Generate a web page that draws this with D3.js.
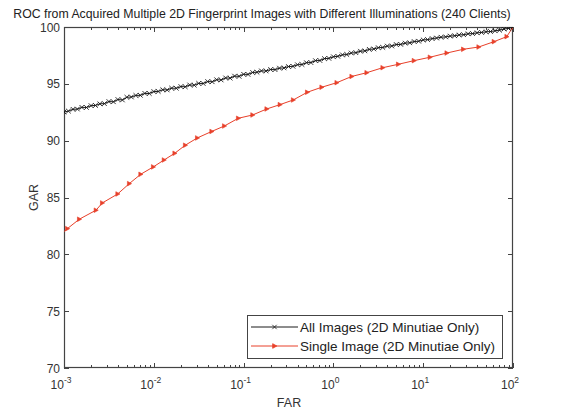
<!DOCTYPE html>
<html>
<head>
<meta charset="utf-8">
<script src="https://cdn.jsdelivr.net/npm/d3@7/dist/d3.min.js"></script>
<style>
  html, body { margin: 0; padding: 0; background: #fff; }
  svg { display: block; font-family: "Liberation Sans", Arial, sans-serif; }
</style>
</head>
<body>
<svg id="chart" width="571" height="412"></svg>
<script>
// ROC curves: FAR (%) on a log axis vs. GAR (%)
const titleText = "ROC from Acquired Multiple 2D Fingerprint Images with Different Illuminations (240 Clients)";
const xLabel = "FAR";
const yLabel = "GAR";
const xTickExponents = [-3, -2, -1, 0, 1, 2];
const yTicks = [70, 75, 80, 85, 90, 95, 100];
const seriesNames = ["All Images (2D Minutiae Only)", "Single Image (2D Minutiae Only)"];

// All images: dense operating points
const allFar = [
  1.00e-3, 1.12e-3, 1.26e-3, 1.41e-3, 1.58e-3, 1.78e-3, 2.00e-3, 2.24e-3, 2.51e-3, 2.82e-3,
  3.16e-3, 3.55e-3, 3.98e-3, 4.47e-3, 5.01e-3, 5.62e-3, 6.31e-3, 7.08e-3, 7.94e-3, 8.91e-3,
  1.00e-2, 1.12e-2, 1.26e-2, 1.41e-2, 1.58e-2, 1.78e-2, 2.00e-2, 2.24e-2, 2.51e-2, 2.82e-2,
  3.16e-2, 3.55e-2, 3.98e-2, 4.47e-2, 5.01e-2, 5.62e-2, 6.31e-2, 7.08e-2, 7.94e-2, 8.91e-2,
  1.00e-1, 1.12e-1, 1.26e-1, 1.41e-1, 1.58e-1, 1.78e-1, 2.00e-1, 2.24e-1, 2.51e-1, 2.82e-1,
  3.16e-1, 3.55e-1, 3.98e-1, 4.47e-1, 5.01e-1, 5.62e-1, 6.31e-1, 7.08e-1, 7.94e-1, 8.91e-1,
  1.00, 1.12, 1.26, 1.41, 1.58, 1.78, 2.00, 2.24, 2.51, 2.82,
  3.16, 3.55, 3.98, 4.47, 5.01, 5.62, 6.31, 7.08, 7.94, 8.91,
  10.0, 11.2, 12.6, 14.1, 15.8, 17.8, 20.0, 22.4, 25.1, 28.2,
  31.6, 35.5, 39.8, 44.7, 50.1, 56.2, 63.1, 70.8, 79.4, 89.1,
  100
];
const allGar = [
  92.52, 92.60, 92.76, 92.78, 92.93, 92.92, 93.08, 93.10, 93.24, 93.26,
  93.44, 93.42, 93.62, 93.58, 93.82, 93.84, 93.98, 93.99, 94.16, 94.15,
  94.32, 94.33, 94.48, 94.46, 94.62, 94.61, 94.76, 94.74, 94.90, 94.88,
  95.04, 95.03, 95.20, 95.18, 95.36, 95.34, 95.52, 95.50, 95.68, 95.66,
  95.84, 95.83, 96.00, 96.02, 96.14, 96.13, 96.26, 96.25, 96.38, 96.40,
  96.52, 96.54, 96.68, 96.70, 96.86, 96.87, 97.04, 97.05, 97.22, 97.24,
  97.38, 97.42, 97.55, 97.58, 97.71, 97.74, 97.87, 97.90, 98.03, 98.07,
  98.18, 98.20, 98.32, 98.33, 98.46, 98.47, 98.58, 98.61, 98.72, 98.75,
  98.86, 98.89, 98.98, 99.03, 99.10, 99.13, 99.20, 99.23, 99.30, 99.32,
  99.40, 99.42, 99.49, 99.52, 99.58, 99.60, 99.67, 99.72, 99.82, 99.88,
  100.0
];

// Single image: sparser operating points
const singleFar = [
  0.00100, 0.00109, 0.00148, 0.00227, 0.00267, 0.00396, 0.00533, 0.00714, 0.00986, 0.0130,
  0.0171, 0.0224, 0.0305, 0.0441, 0.0610, 0.0872, 0.126, 0.181, 0.254, 0.357,
  0.512, 0.741, 1.09, 1.60, 2.35, 3.54, 5.28, 7.90, 11.9, 18.3,
  28.0, 41.5, 61.4, 85.1, 100
];
const singleGar = [
  82.00, 82.26, 83.09, 83.88, 84.52, 85.31, 86.22, 87.04, 87.69, 88.30,
  88.89, 89.60, 90.24, 90.81, 91.29, 91.97, 92.26, 92.79, 93.17, 93.58,
  94.26, 94.70, 95.10, 95.65, 95.98, 96.42, 96.72, 97.04, 97.34, 97.71,
  98.04, 98.24, 98.71, 99.15, 100.0
];

const colors = ["#1a1a1a", "#e8402a"];
const plot = { left: 64, right: 513, top: 27, bottom: 368 };

const svg = d3.select("#chart");
const x = d3.scaleLog().domain([1e-3, 1e2]).range([plot.left, plot.right]);
const y = d3.scaleLinear().domain([70, 100]).range([plot.bottom, plot.top]);

svg.append("rect").attr("width", 571).attr("height", 412).attr("fill", "#fff");

// title
svg.append("text")
  .attr("x", 262).attr("y", 18)
  .attr("text-anchor", "middle")
  .attr("font-size", 12.3).attr("fill", "#222")
  .text(titleText);

// clip region for the curves
svg.append("clipPath").attr("id", "plotClip")
  .append("rect")
  .attr("x", plot.left).attr("y", plot.top)
  .attr("width", plot.right - plot.left).attr("height", plot.bottom - plot.top);

const axisColor = "#444";

// minor and major ticks on log x-axis (drawn inside, bottom and top)
const minorVals = [];
for (const e of xTickExponents.slice(0, -1)) {
  for (let m = 2; m <= 9; m++) minorVals.push(m * Math.pow(10, e));
}
const majorVals = xTickExponents.map(e => Math.pow(10, e));

const tickG = svg.append("g").attr("stroke", axisColor).attr("stroke-width", 1);
minorVals.forEach(v => {
  const px = Math.round(x(v)) + 0.5;
  tickG.append("line").attr("x1", px).attr("x2", px).attr("y1", plot.bottom).attr("y2", plot.bottom - 3);
  tickG.append("line").attr("x1", px).attr("x2", px).attr("y1", plot.top).attr("y2", plot.top + 3);
});
majorVals.forEach(v => {
  const px = Math.round(x(v)) + 0.5;
  tickG.append("line").attr("x1", px).attr("x2", px).attr("y1", plot.bottom).attr("y2", plot.bottom - 5);
  tickG.append("line").attr("x1", px).attr("x2", px).attr("y1", plot.top).attr("y2", plot.top + 5);
});
yTicks.forEach(v => {
  const py = Math.round(y(v)) + 0.5;
  tickG.append("line").attr("x1", plot.left).attr("x2", plot.left + 5).attr("y1", py).attr("y2", py);
  tickG.append("line").attr("x1", plot.right).attr("x2", plot.right - 5).attr("y1", py).attr("y2", py);
});

// axes box
svg.append("rect")
  .attr("x", plot.left + 0.5).attr("y", plot.top + 0.5)
  .attr("width", plot.right - plot.left - 1).attr("height", plot.bottom - plot.top - 1)
  .attr("fill", "none").attr("stroke", axisColor).attr("stroke-width", 1.2);

// y tick labels
svg.append("g").selectAll("text").data(yTicks).join("text")
  .attr("x", plot.left - 4).attr("y", d => y(d) + 4.5)
  .attr("text-anchor", "end").attr("font-size", 12).attr("fill", "#333")
  .text(d => d);

// x tick labels: 10 with superscript exponent
const xl = svg.append("g").selectAll("text").data(xTickExponents).join("text")
  .attr("x", d => x(Math.pow(10, d)) - 3)
  .attr("y", 389)
  .attr("text-anchor", "middle").attr("font-size", 12).attr("fill", "#333");
xl.append("tspan").text("10");
xl.append("tspan").attr("dy", -6).attr("font-size", 8.5).text(d => String(d));

// axis labels
svg.append("text").attr("x", 289).attr("y", 407)
  .attr("text-anchor", "middle").attr("font-size", 12.5).attr("fill", "#333").text(xLabel);
svg.append("text")
  .attr("transform", `translate(38,${(plot.top + plot.bottom) / 2}) rotate(-90)`)
  .attr("text-anchor", "middle").attr("font-size", 12.5).attr("fill", "#333").text(yLabel);

const line = d3.line().x(d => x(d[0])).y(d => y(d[1]));
const curves = svg.append("g").attr("clip-path", "url(#plotClip)");

const allPts = allFar.map((f, i) => [f, allGar[i]]);
const singlePts = singleFar.map((f, i) => [f, singleGar[i]]);

// marker symbol paths
function xMark(cx, cy, r) {
  return `M${cx - r},${cy - r}L${cx + r},${cy + r}M${cx - r},${cy + r}L${cx + r},${cy - r}`;
}
function triRight(cx, cy, r) {
  return `M${cx - r * 0.8},${cy - r}L${cx + r},${cy}L${cx - r * 0.8},${cy + r}Z`;
}

// single image curve (red, right-pointing triangles)
curves.append("path").datum(singlePts)
  .attr("fill", "none").attr("stroke", colors[1]).attr("stroke-width", 1).attr("d", line);
curves.append("g").selectAll("path").data(singlePts.slice(1)).join("path")
  .attr("d", d => triRight(x(d[0]), y(d[1]), 2.3))
  .attr("fill", colors[1]).attr("stroke", colors[1]).attr("stroke-width", 0.6);

// all images curve (black, x markers)
curves.append("path").datum(allPts)
  .attr("fill", "none").attr("stroke", colors[0]).attr("stroke-width", 1).attr("d", line);
curves.append("g").selectAll("path").data(allPts).join("path")
  .attr("d", d => xMark(x(d[0]), y(d[1]), 2.3))
  .attr("fill", "none").attr("stroke", colors[0]).attr("stroke-width", 0.9);

// legend
const lg = svg.append("g");
lg.append("rect").attr("x", 247.5).attr("y", 315.5).attr("width", 255).attr("height", 43)
  .attr("fill", "#fff").attr("stroke", axisColor).attr("stroke-width", 1);
seriesNames.forEach((name, i) => {
  const ly = 327 + i * 19;
  lg.append("line").attr("x1", 251).attr("x2", 298).attr("y1", ly).attr("y2", ly)
    .attr("stroke", colors[i]).attr("stroke-width", 1);
  lg.append("path")
    .attr("d", i === 0 ? xMark(274.5, ly, 2.2) : triRight(274.5, ly, 2.3))
    .attr("fill", i === 0 ? "none" : colors[i]).attr("stroke", colors[i]).attr("stroke-width", 0.8);
  lg.append("text").attr("x", 300).attr("y", ly + 5)
    .attr("font-size", 13.5).attr("fill", "#222").text(name);
});
</script>
</body>
</html>
